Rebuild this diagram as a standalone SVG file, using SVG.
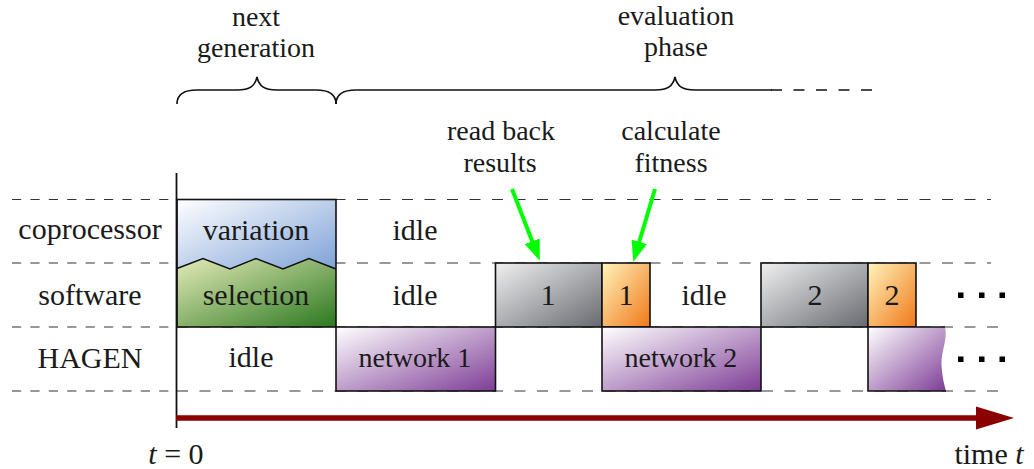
<svg xmlns="http://www.w3.org/2000/svg" width="1034" height="469" viewBox="0 0 1034 469">
<style>
text{font-family:"Liberation Serif","Times New Roman",serif;fill:#1a1a1a;text-anchor:middle}
.lbl{font-size:30px}
.ann{font-size:28px}
.net{font-size:28px}
.grid{stroke:#333;stroke-width:1.2;fill:none}
.gl{stroke-dasharray:9.2 9.2}
.gr{stroke-dasharray:11 11.5}
.box{stroke:#111;stroke-width:1.6}
.brace{fill:none;stroke:#111;stroke-width:1.6}
.green{stroke:#00ff00;stroke-width:4;fill:none}
</style>
<defs>
<linearGradient id="gBlue" x1="0" y1="0" x2="1" y2="1"><stop offset="0" stop-color="#ffffff"/><stop offset="1" stop-color="#7a9ed6"/></linearGradient>
<linearGradient id="gGreen" x1="0" y1="0" x2="1" y2="1"><stop offset="0" stop-color="#e4ebb8"/><stop offset="1" stop-color="#2b781f"/></linearGradient>
<linearGradient id="gPurple" x1="0" y1="0" x2="1" y2="1"><stop offset="0" stop-color="#ffffff"/><stop offset="1" stop-color="#7e3d96"/></linearGradient>
<linearGradient id="gGray" x1="0" y1="0" x2="1" y2="1"><stop offset="0" stop-color="#f0f0f0"/><stop offset="1" stop-color="#676a70"/></linearGradient>
<linearGradient id="gOrange" x1="0" y1="0" x2="1" y2="1"><stop offset="0" stop-color="#fff4bc"/><stop offset="1" stop-color="#f07818"/></linearGradient>
<marker id="ahGreen" markerUnits="userSpaceOnUse" markerWidth="22" markerHeight="16" viewBox="0 0 22 16" refX="1" refY="8" orient="auto"><path d="M0,0 L21,8 L0,16 Z" fill="#00ff00"/></marker>
</defs>

<g id="gridlines">
<path class="grid gl" d="M12,199.5 H177 M12,263 H177 M12,327 H177 M12,391 H177"/>
<path class="grid gr" d="M177,199.5 H991 M177,263 H991 M177,327 H1006 M177,391 H1006"/>
</g>

<g id="row-labels">
<text class="lbl" x="90" y="239">coprocessor</text>
<text class="lbl" x="90" y="305">software</text>
<text class="lbl" x="90" y="368">HAGEN</text>
</g>

<g id="node-variation-selection">
<rect x="177" y="199.5" width="159" height="75" fill="url(#gBlue)"/>
<path d="M177,268.5 L203,258.5 L230,269 L256,258.5 L283,269 L309,258.5 L336,269 L336,327 L177,327 Z" fill="url(#gGreen)"/>
<path class="box" fill="none" d="M177,268.5 L203,258.5 L230,269 L256,258.5 L283,269 L309,258.5 L336,269"/>
<rect class="box" x="177" y="199.5" width="159" height="127.5" fill="none"/>
<text class="lbl" x="256" y="240">variation</text>
<text class="lbl" x="256" y="305">selection</text>
</g>

<g id="idle-labels">
<text class="lbl" x="415" y="240">idle</text>
<text class="lbl" x="415" y="305">idle</text>
<text class="lbl" x="251" y="367">idle</text>
<text class="lbl" x="704" y="305">idle</text>
</g>

<g id="node-network1">
<rect class="box" x="336" y="327" width="159.5" height="64" fill="url(#gPurple)"/>
<text class="net" x="415" y="367">network 1</text>
</g>
<g id="node-readback1">
<rect class="box" x="495.5" y="263" width="106.5" height="64" fill="url(#gGray)"/>
<text class="lbl" x="548" y="305">1</text>
</g>
<g id="node-fitness1">
<rect class="box" x="602" y="263" width="48" height="64" fill="url(#gOrange)"/>
<text class="lbl" x="626" y="305">1</text>
</g>
<g id="node-network2">
<rect class="box" x="602" y="327" width="159" height="64" fill="url(#gPurple)"/>
<text class="net" x="681" y="367">network 2</text>
</g>
<g id="node-readback2">
<rect class="box" x="761" y="263" width="107" height="64" fill="url(#gGray)"/>
<text class="lbl" x="815" y="305">2</text>
</g>
<g id="node-fitness2">
<rect class="box" x="868" y="263" width="48" height="64" fill="url(#gOrange)"/>
<text class="lbl" x="892" y="305">2</text>
</g>
<g id="node-network3">
<path d="M868,327 L945,327 C948,338 941,352 941.5,364 C942,376 944,384 946,391 L868,391 Z" fill="url(#gPurple)"/>
<path class="box" fill="none" d="M945,327 L868,327 L868,391 L946,391"/>
</g>

<g id="ellipsis" fill="#000">
<rect x="958" y="292.5" width="5.5" height="5.5"/>
<rect x="979" y="292.5" width="5.5" height="5.5"/>
<rect x="999.5" y="292.5" width="5.5" height="5.5"/>
<rect x="958" y="356.5" width="5.5" height="5.5"/>
<rect x="979" y="356.5" width="5.5" height="5.5"/>
<rect x="999.5" y="356.5" width="5.5" height="5.5"/>
</g>

<g id="phase-braces">
<path class="brace" d="M177,104 C177,95 184,90 197,90 L237,90 C250,90 255,86 257,77 C259,86 264,90 277,90 L316,90 C329,90 336,95 336,104"/>
<path class="brace" d="M336,104 C336,95 343,90 356,90 L655,90 C668,90 673,86 675,77 C677,86 682,90 695,90 L772,90"/>
<path class="brace" d="M771,90 H872" stroke-dasharray="11 11.5"/>
<text class="ann" x="256" y="25.5">next</text>
<text class="ann" x="256" y="56.5">generation</text>
<text class="ann" x="676" y="25">evaluation</text>
<text class="ann" x="676" y="56">phase</text>
</g>

<g id="annotations">
<text class="ann" x="501" y="140">read back</text>
<text class="ann" x="500" y="172">results</text>
<text class="ann" x="671" y="139.5">calculate</text>
<text class="ann" x="671" y="171.5">fitness</text>
</g>

<g id="connectors">
<path class="green" d="M512,189 L532.6,242.2" marker-end="url(#ahGreen)"/>
<path class="green" d="M655,189 L639,242.8" marker-end="url(#ahGreen)"/>
<path d="M176.5,173 V428" stroke="#111" stroke-width="1.8"/>
<path d="M176,418 H979" stroke="#8b0000" stroke-width="5.5"/>
<path d="M976,406.5 L1014,418 L976,429.5 Z" fill="#8b0000"/>
</g>

<g id="axis-labels">
<text class="lbl" x="176" y="464"><tspan font-style="italic">t</tspan> = 0</text>
<text class="lbl" x="989" y="464">time <tspan font-style="italic">t</tspan></text>
</g>
</svg>
